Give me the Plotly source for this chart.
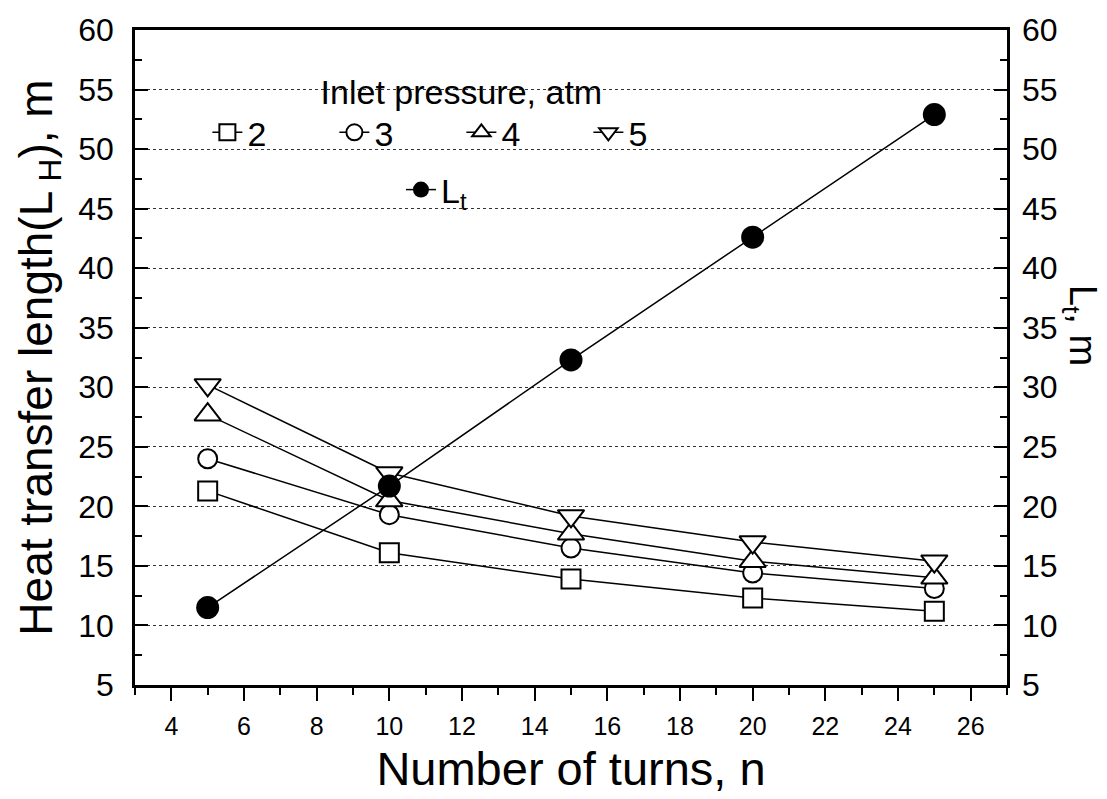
import plotly.graph_objects as go

n_turns = [5, 10, 15, 20, 25]
p2 = [21.3, 16.1, 13.9, 12.3, 11.2]
p3 = [24.0, 19.3, 16.5, 14.4, 13.1]
p4 = [27.7, 20.5, 17.7, 15.4, 14.0]
p5 = [30.2, 22.8, 19.2, 17.0, 15.4]
Lt = [11.5, 21.7, 32.3, 42.6, 52.9]

series = [
    ("2", p2, "square", 19),
    ("3", p3, "circle", 19),
    ("4", p4, "triangle-up", 23),
    ("5", p5, "triangle-down", 23),
]

FONT = "Liberation Sans, Arial, sans-serif"

fig = go.Figure()
for name, vals, sym, size in series:
    fig.add_trace(go.Scatter(
        x=n_turns, y=vals, name=name, mode="lines+markers",
        line=dict(color="black", width=1.5),
        marker=dict(symbol=sym, size=size, color="white",
                    line=dict(color="black", width=2)),
        legend="legend",
    ))

fig.add_trace(go.Scatter(
    x=n_turns, y=Lt, name="L<sub>t</sub>", mode="lines+markers",
    line=dict(color="black", width=1.5),
    marker=dict(symbol="circle", size=23, color="black"),
    yaxis="y2", legend="legend2",
))

fig.update_layout(
    width=1107, height=799,
    margin=dict(l=135, r=100, t=25, b=102),
    paper_bgcolor="white", plot_bgcolor="white",
    font=dict(family=FONT, color="black"),
    showlegend=True,
    xaxis=dict(
        range=[3, 27], tick0=4, dtick=2,
        ticks="outside", ticklen=13, tickwidth=2, tickcolor="black",
        minor=dict(dtick=1, ticks="outside", ticklen=7, tickwidth=2, tickcolor="black"),
        showline=True, linewidth=2.5, linecolor="black", mirror=True,
        showgrid=False, zeroline=False,
        tickfont=dict(size=25, family=FONT),
        title=dict(text="Number of turns, n", font=dict(size=47, family=FONT), standoff=14),
        ticklabelstandoff=4,
    ),
    xaxis2=dict(
        range=[3, 27], tick0=4, dtick=2, overlaying="x", side="top", anchor="y",
        ticks="inside", ticklen=14, tickwidth=2, tickcolor="black",
        minor=dict(dtick=1, ticks="inside", ticklen=8, tickwidth=2, tickcolor="black"),
        showticklabels=False, showline=False, showgrid=False, zeroline=False,
    ),
    yaxis=dict(
        range=[5, 60], tick0=5, dtick=5,
        ticks="inside", ticklen=13, tickwidth=2, tickcolor="black",
        minor=dict(dtick=2.5, ticks="inside", ticklen=7, tickwidth=2, tickcolor="black", showgrid=False),
        showline=True, linewidth=2.5, linecolor="black", mirror=True,
        showgrid=True, gridcolor="#333", griddash="dot", gridwidth=1,
        zeroline=False,
        tickfont=dict(size=32, family=FONT),
        ticklabelstandoff=12,
        title=dict(text="Heat transfer length(L<sub> H</sub>), m",
                   font=dict(size=46, family=FONT), standoff=12),
    ),
    yaxis2=dict(
        range=[5, 60], tick0=5, dtick=5, overlaying="y", side="right", anchor="x",
        ticks="inside", ticklen=13, tickwidth=2, tickcolor="black",
        minor=dict(dtick=2.5, ticks="inside", ticklen=7, tickwidth=2, tickcolor="black"),
        showline=False, showgrid=False, zeroline=False,
        tickfont=dict(size=32, family=FONT),
        ticklabelstandoff=14,
    ),
    legend=dict(
        orientation="h", x=0.083, y=0.955, xanchor="left", yanchor="top",
        bgcolor="rgba(0,0,0,0)", borderwidth=0,
        font=dict(size=34, family=FONT),
        title=dict(text="Inlet pressure, atm", side="top center", font=dict(size=34, family=FONT)),
        entrywidth=82, entrywidthmode="pixels",
        traceorder="normal",
    ),
    legend2=dict(
        orientation="h", x=0.305, y=0.80, xanchor="left", yanchor="top",
        bgcolor="rgba(0,0,0,0)", borderwidth=0,
        font=dict(size=34, family=FONT),
    ),
    annotations=[
        dict(text="L<sub>t</sub>, m", textangle=90, x=1, xref="paper", xanchor="center",
             xshift=73, y=0.55, yref="paper", yanchor="middle", showarrow=False,
             font=dict(size=38, family=FONT)),
    ],
)

fig.write_html("out.html")
